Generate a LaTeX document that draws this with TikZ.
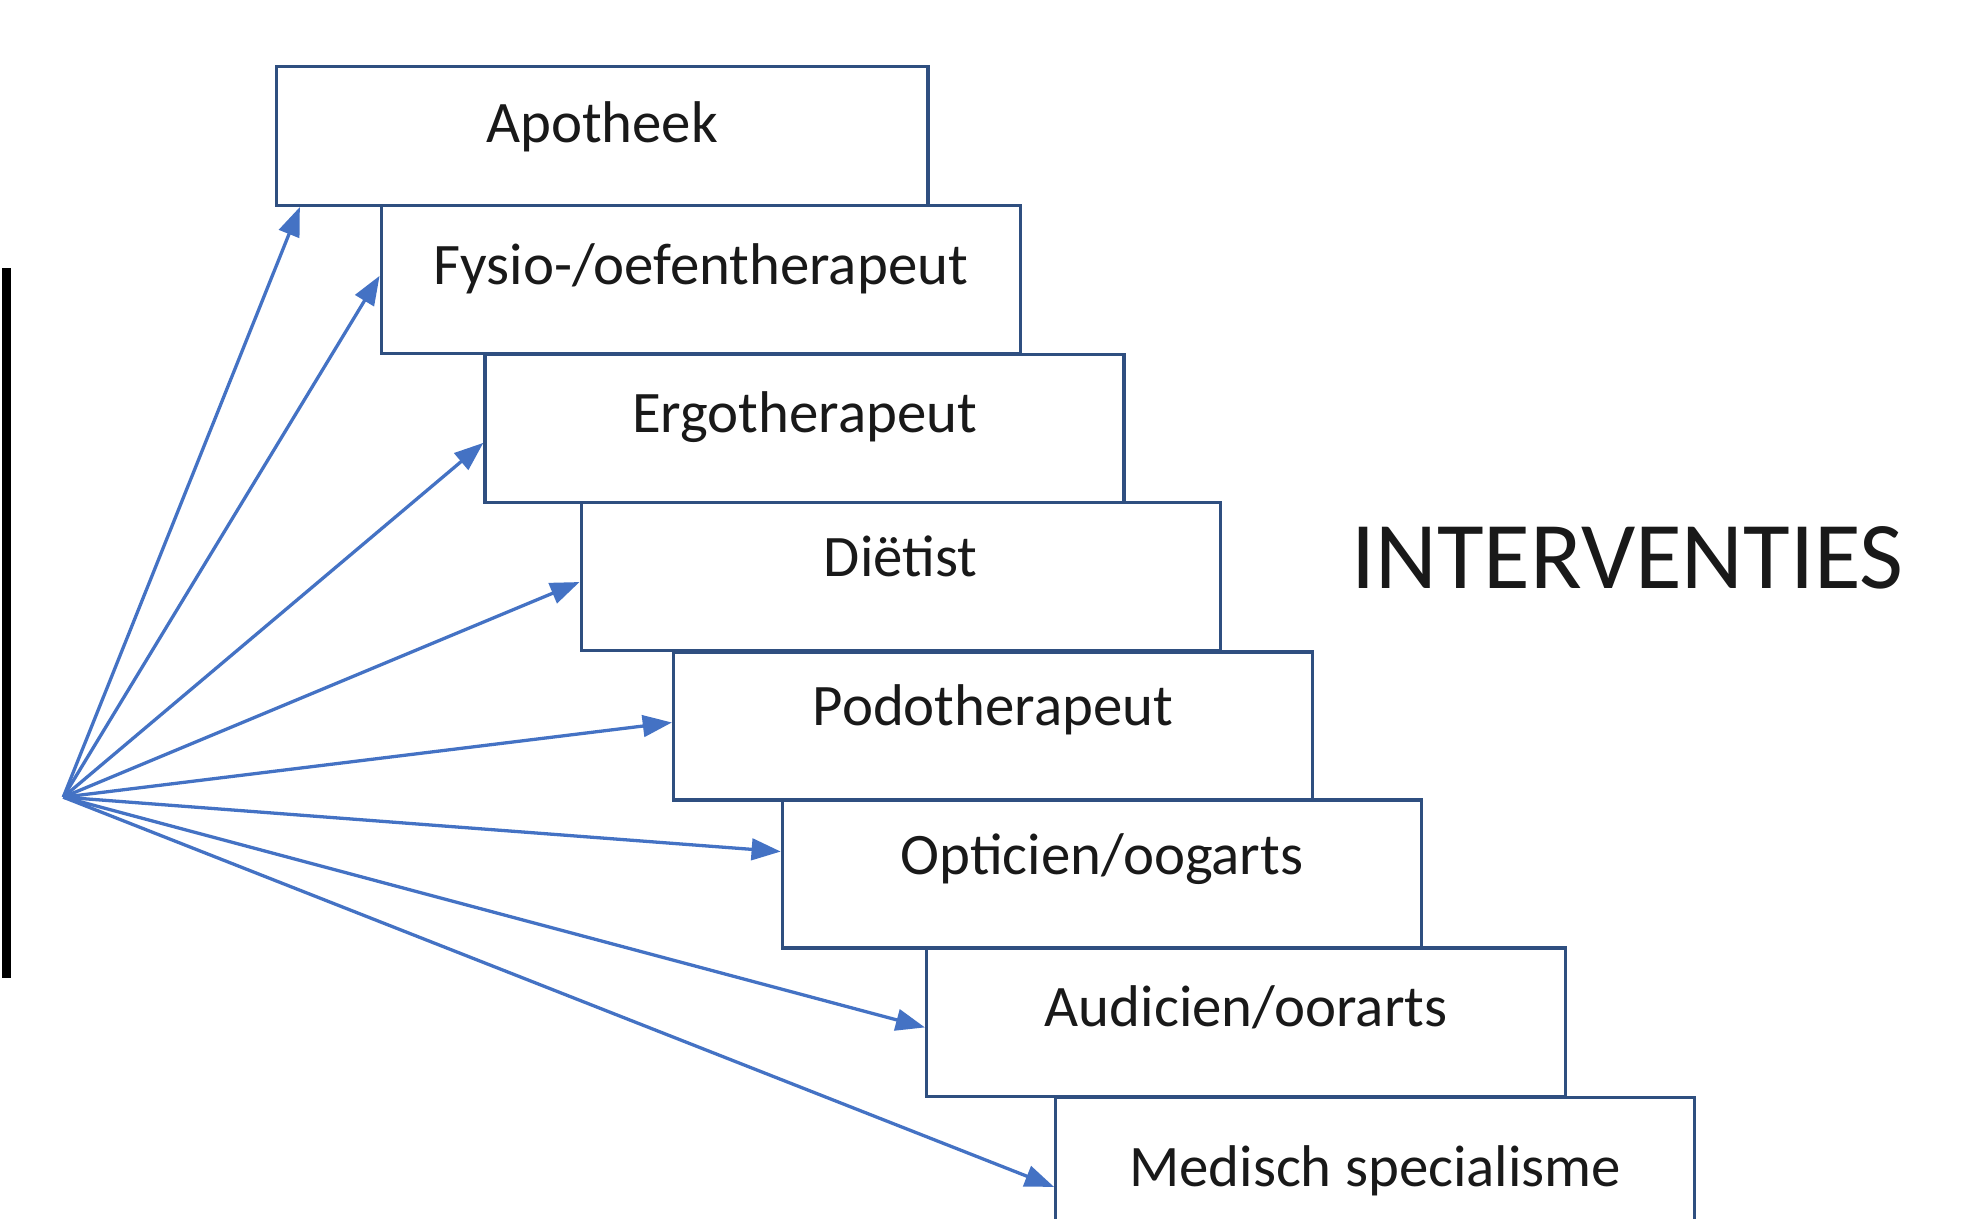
\documentclass[tikz,border=0pt]{standalone}
\usepackage{fontspec}
\setmainfont{Carlito}
\usetikzlibrary{arrows.meta,calc}
\definecolor{boxline}{HTML}{2F4F80}
\definecolor{arrowblue}{HTML}{4472C4}
\begin{document}
\begin{tikzpicture}[x=1pt,y=-1pt,
  box/.style={draw=boxline,line width=2.6pt,fill=white,rectangle,minimum width=505pt,minimum height=117pt,anchor=north west,inner sep=0pt},
  lbl/.style={anchor=base,font=\fontsize{46.5}{56}\selectfont,text=black!90,inner sep=0pt},
  conn/.style={draw=arrowblue,line width=2.6pt,-{Triangle[length=23pt,width=17pt]}}]
\useasboundingbox (0,0) rectangle (1568,963);
\clip (0,0) rectangle (1568,963);
\fill[white] (0,0) rectangle (1568,963);
% black bar
\draw[line width=7pt,black] (5,212) coordinate (bt) -- (5,773) coordinate (bb);
% boxes
\node[box,minimum width=515pt,minimum height=110pt] (b1) at (217,51) {};
\node[box] (b2) at (300,161) {};
\node[box] (b3) at (382,279) {};
\node[box] (b4) at (458,396) {};
\node[box] (b5) at (531,514) {};
\node[box] (b6) at (617,631) {};
\node[box] (b7) at (731,748) {};
\node[box,minimum height=140pt] (b8) at (833,866) {};
% labels
\node[lbl] (t1) at ($(b1.north)+(0,62)$) {Apotheek};
\node[lbl] (t2) at ($(b2.north)+(0,64)$) {Fysio-/oefentherapeut};
\node[lbl] (t3) at ($(b3.north)+(0,63)$) {Ergotherapeut};
\node[lbl] (t4) at ($(b4.north)+(0,60)$) {Diëtist};
\node[lbl] (t5) at ($(b5.north)+(0,59)$) {Podotherapeut};
\node[lbl] (t6) at ($(b6.north)+(0,60)$) {Opticien/oogarts};
\node[lbl] (t7) at ($(b7.north)+(0,63)$) {Audicien/oorarts};
\node[lbl] (t8) at ($(b8.north)+(0,72)$) {Medisch specialisme};
\node[anchor=base west,font=\fontsize{75.5}{90}\selectfont,text=black!90,inner sep=0pt] (title) at (1068,465) {INTERVENTIES};
% connectors
\coordinate (src) at (50,630);
\draw[conn] (src) -- ($(b1.south west)+(20,0)$);
\draw[conn] (src) -- ($(b2.north west)+(0,57)$);
\draw[conn] (src) -- ($(b3.north west)+(0,71)$);
\draw[conn] (src) -- ($(b4.north west)+(0,64)$);
\draw[conn] (src) -- ($(b5.north west)+(0,57)$);
\draw[conn] (src) -- ($(b6.north west)+(0,42)$);
\draw[conn] (src) -- ($(b7.north west)+(0,64)$);
\draw[conn] (src) -- ($(b8.north west)+(0,72)$);
\end{tikzpicture}
\end{document}
